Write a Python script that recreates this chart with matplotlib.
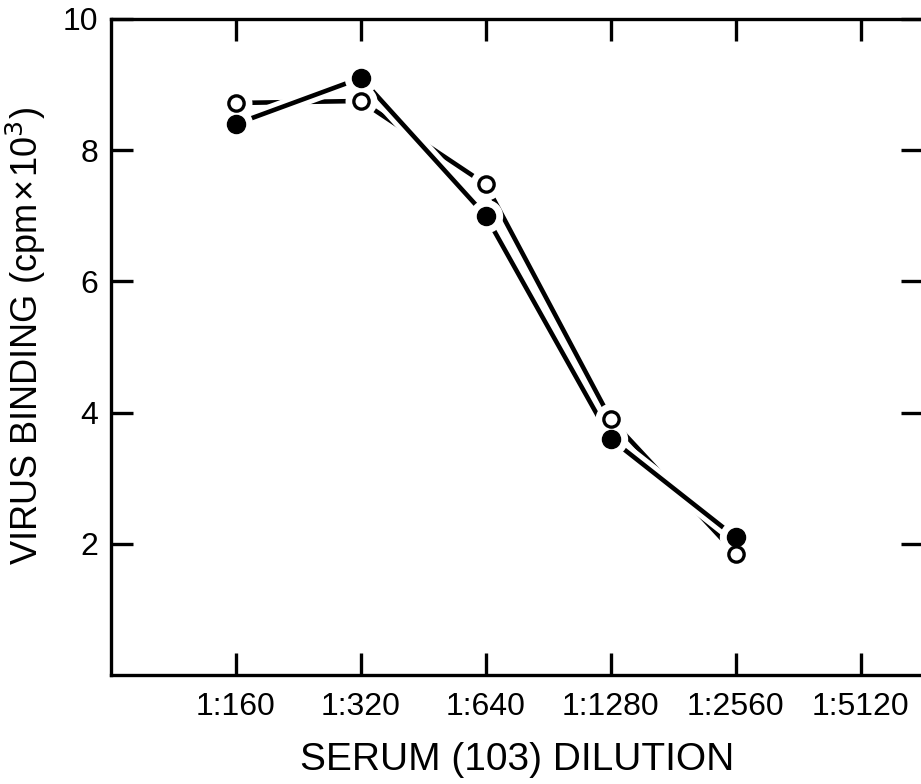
import numpy as np
import matplotlib.pyplot as plt
import matplotlib.patheffects as pe

plt.rcParams['font.family'] = ['Liberation Sans', 'DejaVu Sans']

dilutions = ['1:160', '1:320', '1:640', '1:1280', '1:2560', '1:5120']
filled = [8.4, 9.1, 7.0, 3.6, 2.1]
open_ = [8.72, 8.75, 7.48, 3.9, 1.85]

x_all = np.arange(1, len(dilutions) + 1)
x_data = x_all[:len(filled)]

fig = plt.figure(figsize=(9.21, 7.84), dpi=100)
ax = fig.add_axes([111 / 921, 1 - 675 / 784, 812 / 921, 656 / 784])

lw = 3.3
halo = [pe.Stroke(linewidth=lw + 7, foreground='white'), pe.Normal()]
ax.plot(x_data, open_, color='black', lw=lw, solid_capstyle='butt',
        path_effects=halo, zorder=2)
ax.plot(x_data, filled, color='black', lw=lw, solid_capstyle='butt',
        path_effects=halo, zorder=3)

# white gaps around the points
ax.plot(x_data, open_, 'o', ms=23, color='white', mec='none', zorder=4)
ax.plot(x_data, filled, 'o', ms=24, color='white', mec='none', zorder=4)

ax.plot(x_data, open_, 'o', ms=11, mfc='white', mec='black', mew=2.4, zorder=5)
ax.plot(x_data, filled, 'o', ms=13, mfc='black', mec='black', zorder=5)

ax.set_xlim(0, 6.5)
ax.set_ylim(0, 10)
ax.set_xticks(x_all)
ax.set_xticklabels(dilutions)
ax.set_yticks([2, 4, 6, 8, 10])
ax.set_yticklabels(['2', '4', '6', '8', '10'])

for s in ax.spines.values():
    s.set_linewidth(2.4)
ax.tick_params(direction='in', length=16, width=2.4, labelsize=23,
               top=True, right=True, pad=9)
ax.tick_params(axis='x', pad=12)

fig.text(517 / 921, 1 - 760 / 784, 'SERUM (103) DILUTION', fontsize=28,
         ha='center', va='center')
fig.text(26 / 921, 1 - 336 / 784, 'VIRUS BINDING (cpm\u200a\u00d7\u200a10$^3$)',
         fontsize=26, rotation=90, ha='center', va='center')

fig.savefig('out.png', dpi=100)
